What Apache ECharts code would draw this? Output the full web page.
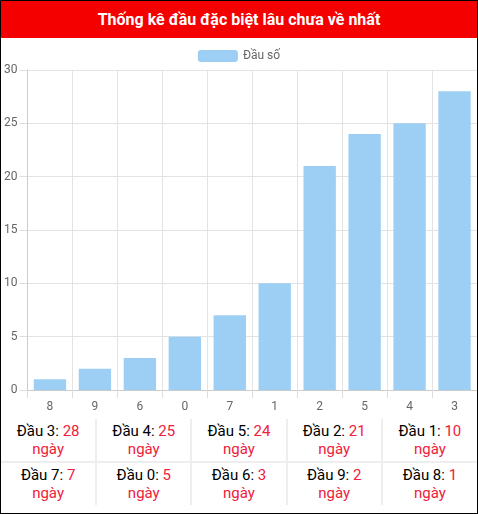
<!DOCTYPE html>
<html><head><meta charset="utf-8">
<script src="https://cdn.jsdelivr.net/npm/echarts@6/dist/echarts.min.js"></script>
<style>
html,body{margin:0;padding:0;background:#fff;font-family:Roboto,sans-serif;}
#wrap{width:476px;height:512px;border:1px solid #000;overflow:hidden;position:relative;}
#title{height:37px;background:#f40000;color:#fff;font-weight:bold;font-size:16px;text-align:center;line-height:37px;}
#chart{width:476px;height:381px;}
table{border-collapse:collapse;width:476px;table-layout:fixed;}
td{border:2px solid #eee;text-align:center;font-size:15px;height:42px;padding:0;line-height:18px;color:#000;}
tr:first-child td{border-top:none;}
td:first-child{border-left:none;} td:last-child{border-right:none;}
tr:last-child td{border-bottom:none;}
.r{color:#f0203a;}
</style></head><body>
<div id="wrap">
<div id="title">Thống kê đầu đặc biệt lâu chưa về nhất</div>
<div id="chart"></div>
<table id="tbl"></table>
</div>
<script>
const categories = ['8','9','6','0','7','1','2','5','4','3'];
const values = [1,2,3,5,7,10,21,24,25,28];
const tableHeads = ['3','4','5','2','1','7','0','6','9','8'];
const tableDays = [28,25,24,21,10,7,5,3,2,1];

const chart = echarts.init(document.getElementById('chart'));
chart.setOption({
  animation:false,
  legend:{top:7,left:'center',itemWidth:40,itemHeight:12,itemGap:6,
    textStyle:{color:'#666',fontSize:12,fontFamily:'Roboto'},data:['Đầu số']},
  grid:{left:23,right:0,top:32,bottom:29,containLabel:false},
  xAxis:{type:'category',data:categories,
    axisLine:{lineStyle:{color:'#ccc'}},
    axisTick:{show:true,alignWithLabel:false,length:8,lineStyle:{color:'#ddd'}},
    splitLine:{show:true,lineStyle:{color:'#e3e3e3'}},
    axisLabel:{color:'#666',fontSize:12,margin:11,fontFamily:'Roboto'}},
  yAxis:{type:'value',min:0,max:30,interval:5,
    axisLine:{show:true,lineStyle:{color:'#ccc'}},
    axisTick:{show:true,length:8,lineStyle:{color:'#ddd'}},
    splitLine:{lineStyle:{color:'#e3e3e3'}},
    axisLabel:{color:'#666',fontSize:12,margin:10,fontFamily:'Roboto'}},
  series:[{name:'Đầu số',type:'bar',data:values,barWidth:'72%',
    itemStyle:{color:'#9dcff5'}}]
});

const tbl=document.getElementById('tbl');
for(let r=0;r<2;r++){
  const tr=document.createElement('tr');
  for(let c=0;c<5;c++){
    const i=r*5+c;
    const td=document.createElement('td');
    td.innerHTML='Đầu '+tableHeads[i]+': <span class="r">'+tableDays[i]+'</span><br><span class="r">ngày</span>';
    tr.appendChild(td);
  }
  tbl.appendChild(tr);
}
</script>
</body></html>
